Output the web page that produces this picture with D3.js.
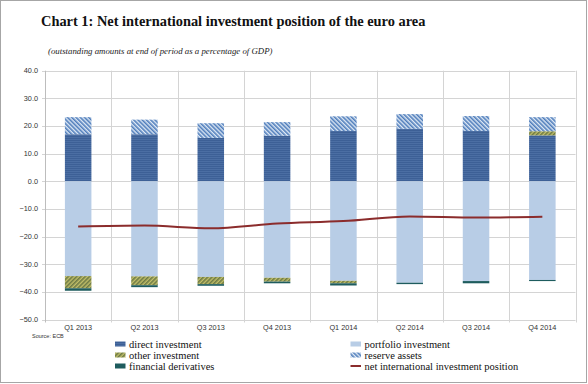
<!DOCTYPE html>
<html>
<head>
<meta charset="utf-8">
<script src="https://cdn.jsdelivr.net/npm/d3@7"></script>
<style>
  html, body { margin: 0; padding: 0; background: #fff; }
  svg { display: block; }
</style>
</head>
<body>
<div id="chart"></div>
<script>
// values, % of GDP
var quarters = ['Q1 2013', 'Q2 2013', 'Q3 2013', 'Q4 2013', 'Q1 2014', 'Q2 2014', 'Q3 2014', 'Q4 2014'];
var directInv = [17.0, 17.0, 15.7, 16.5, 18.2, 19.0, 18.2, 16.6];
var portfolioInv = [-34.3, -34.4, -34.6, -34.9, -36.0, -36.7, -36.1, -35.7];
var otherInv = [-4.4, -3.2, -2.6, -1.4, -0.9, 0.0, 0.0, 1.5];
var finDerivatives = [-0.9, -0.7, -0.6, -0.6, -0.8, -0.5, -0.8, -0.4];
var reserveAssets = [6.2, 5.3, 5.3, 4.9, 5.3, 5.3, 5.4, 5.1];
var niip = [-16.4, -16.0, -17.0, -15.3, -14.4, -12.7, -13.1, -12.8];
var yTicks = [40, 30, 20, 10, 0, -10, -20, -30, -40, -50];

(function(){
var W = 588, H = 384;
var svg = d3.select('#chart').append('svg')
    .attr('width', W)
    .attr('height', H);

var defs = svg.append('defs');

// fills that mimic the excel patterns
var pDirect = defs.append('pattern').attr('id', 'pDirect')
    .attr('patternUnits', 'userSpaceOnUse').attr('width', 4).attr('height', 2);
pDirect.append('rect').attr('width', 4).attr('height', 2).attr('fill', '#3d6096');
pDirect.append('rect').attr('y', 1).attr('width', 4).attr('height', 1).attr('fill', '#4b6ea3');

var pReserve = defs.append('pattern').attr('id', 'pReserve')
    .attr('patternUnits', 'userSpaceOnUse').attr('width', 3).attr('height', 3)
    .attr('patternTransform', 'rotate(-45)');
pReserve.append('rect').attr('width', 3).attr('height', 3).attr('fill', '#dfe9f5');
pReserve.append('rect').attr('width', 1.6).attr('height', 3).attr('fill', '#4f7dbb');

var pOther = defs.append('pattern').attr('id', 'pOther')
    .attr('patternUnits', 'userSpaceOnUse').attr('width', 3).attr('height', 3)
    .attr('patternTransform', 'rotate(45)');
pOther.append('rect').attr('width', 3).attr('height', 3).attr('fill', '#c4c06a');
pOther.append('rect').attr('width', 1.6).attr('height', 3).attr('fill', '#6d7a45');

var colors = {
    direct: 'url(#pDirect)',
    portfolio: '#b8cde6',
    other: 'url(#pOther)',
    derivatives: '#1e5c5e',
    reserve: 'url(#pReserve)'
};

// outer frame
svg.append('rect')
    .attr('x', 0.5).attr('y', 0.5)
    .attr('width', W - 2).attr('height', H - 2)
    .attr('fill', '#fff')
    .attr('stroke', '#a6a6a6');

svg.append('text')
    .attr('x', 41).attr('y', 26)
    .attr('font-family', '"Liberation Serif", "Times New Roman", serif')
    .attr('font-weight', 'bold')
    .attr('font-size', '14.4px')
    .attr('fill', '#111')
    .text('Chart 1: Net international investment position of the euro area');

svg.append('text')
    .attr('x', 48).attr('y', 54)
    .attr('font-family', '"Liberation Serif", "Times New Roman", serif')
    .attr('font-style', 'italic')
    .attr('font-size', '8.8px')
    .attr('fill', '#222')
    .text('(outstanding amounts at end of period as a percentage of GDP)');

var plotL = 45, plotR = 575.5, plotT = 70.7, plotB = 319.5;

var x = d3.scaleBand()
    .domain(quarters)
    .range([plotL, plotR])
    .paddingInner(0.6)
    .paddingOuter(0.3);

var y = d3.scaleLinear()
    .domain([-50, 40])
    .range([plotB, plotT]);

// gridlines
svg.append('g').selectAll('line').data(yTicks).enter()
    .append('line')
    .attr('x1', plotL - 3).attr('x2', plotR)
    .attr('y1', function(d){ return Math.round(y(d)) + 0.5; })
    .attr('y2', function(d){ return Math.round(y(d)) + 0.5; })
    .attr('stroke', '#d4d4d4')
    .attr('stroke-width', 1);

var step = x.step();
svg.append('g').selectAll('line').data(d3.range(quarters.length + 1)).enter()
    .append('line')
    .attr('x1', function(i){ return Math.round(plotL + i * step) + 0.5; })
    .attr('x2', function(i){ return Math.round(plotL + i * step) + 0.5; })
    .attr('y1', plotT).attr('y2', plotB + 3)
    .attr('stroke', function(i){ return i === 0 ? '#bdbdbd' : '#d4d4d4'; })
    .attr('stroke-width', 1);

// y labels
svg.append('g').selectAll('text').data(yTicks).enter()
    .append('text')
    .attr('x', 38)
    .attr('y', function(d){ return y(d) + 2.5; })
    .attr('text-anchor', 'end')
    .attr('font-family', '"Liberation Sans", Arial, sans-serif')
    .attr('font-size', '7.3px')
    .attr('fill', '#333')
    .text(function(d){ return d3.format('.1f')(d); });

// x labels
svg.append('g').selectAll('text').data(quarters).enter()
    .append('text')
    .attr('x', function(d){ return x(d) + x.bandwidth() / 2; })
    .attr('y', 330)
    .attr('text-anchor', 'middle')
    .attr('font-family', '"Liberation Sans", Arial, sans-serif')
    .attr('font-size', '7.3px')
    .attr('fill', '#333')
    .text(function(d){ return d; });

svg.append('text')
    .attr('x', 32).attr('y', 338)
    .attr('font-family', '"Liberation Sans", Arial, sans-serif')
    .attr('font-size', '5.5px')
    .attr('fill', '#333')
    .text('Source: ECB');

// stacked bars (diverging)
var rows = quarters.map(function(q, i){
    return {
        q: q,
        direct: directInv[i],
        portfolio: portfolioInv[i],
        other: otherInv[i],
        derivatives: finDerivatives[i],
        reserve: reserveAssets[i]
    };
});
var keys = ['direct', 'portfolio', 'other', 'derivatives', 'reserve'];
var series = d3.stack().keys(keys).offset(d3.stackOffsetDiverging)(rows);

svg.append('g').selectAll('g').data(series).enter()
    .append('g')
    .attr('fill', function(s){ return colors[s.key]; })
    .selectAll('rect').data(function(s){ return s; }).enter()
    .append('rect')
    .attr('x', function(d){ return x(d.data.q); })
    .attr('width', x.bandwidth())
    .attr('y', function(d){ return y(Math.max(d[0], d[1])); })
    .attr('height', function(d){ return Math.abs(y(d[0]) - y(d[1])); });

// net position line
var line = d3.line()
    .x(function(d, i){ return x(quarters[i]) + x.bandwidth() / 2; })
    .y(function(d){ return y(d); })
    .curve(d3.curveMonotoneX);

svg.append('path')
    .datum(niip)
    .attr('d', line)
    .attr('fill', 'none')
    .attr('stroke', '#8b2c2c')
    .attr('stroke-width', 2);

// legend
var legendItems = [
    {label: 'direct investment', fill: colors.direct, col: 0, row: 0},
    {label: 'other investment', fill: colors.other, col: 0, row: 1},
    {label: 'financial derivatives', fill: colors.derivatives, col: 0, row: 2},
    {label: 'portfolio investment', fill: colors.portfolio, col: 1, row: 0},
    {label: 'reserve assets', fill: colors.reserve, col: 1, row: 1},
    {label: 'net international investment position', line: true, col: 1, row: 2}
];
var colX = [115, 350.5], rowY = [344, 355, 366];

var lg = svg.append('g').selectAll('g').data(legendItems).enter()
    .append('g')
    .attr('transform', function(d){ return 'translate(' + colX[d.col] + ',' + rowY[d.row] + ')'; });

lg.filter(function(d){ return !d.line; })
    .append('rect')
    .attr('x', 0).attr('y', -2.5)
    .attr('width', 10.5).attr('height', 5)
    .attr('fill', function(d){ return d.fill; });

lg.filter(function(d){ return d.line; })
    .append('line')
    .attr('x1', 0).attr('x2', 10.5)
    .attr('y1', 0).attr('y2', 0)
    .attr('stroke', '#8b2c2c')
    .attr('stroke-width', 2);

lg.append('text')
    .attr('x', 14).attr('y', 3.5)
    .attr('font-family', '"Liberation Serif", "Times New Roman", serif')
    .attr('font-size', '10.5px')
    .attr('fill', '#111')
    .text(function(d){ return d.label; });
})();
</script>
</body>
</html>
